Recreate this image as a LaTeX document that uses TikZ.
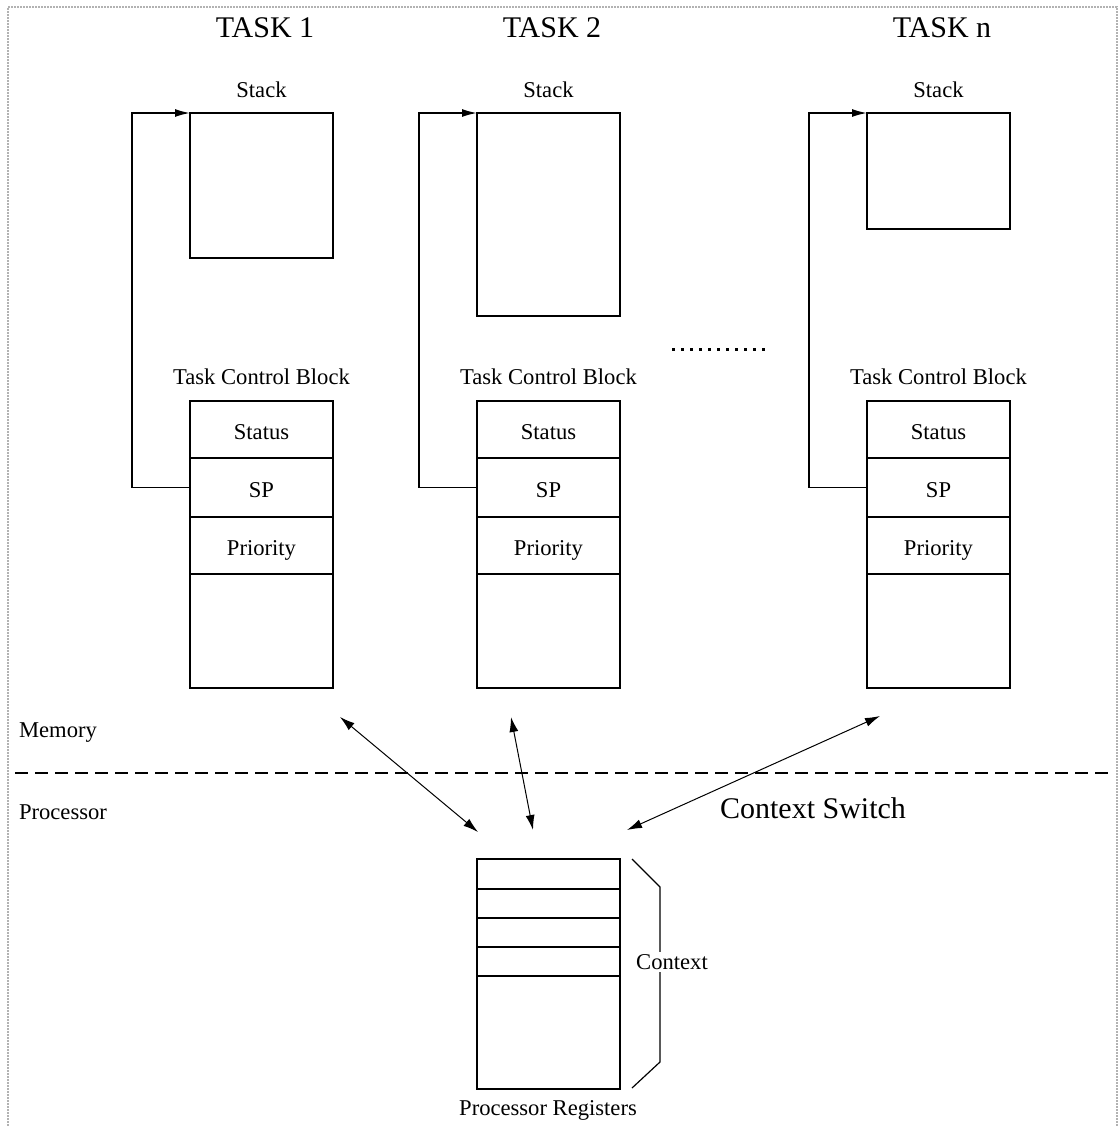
\documentclass[tikz,border=0pt]{standalone}
\usepackage{fontspec}
\setmainfont{Liberation Serif}
\usetikzlibrary{arrows.meta,positioning}

\begin{document}
\begin{tikzpicture}[
  x=0.5pt, y=-0.5pt,
  font=\fontsize{11.3}{13}\selectfont,
  cell/.style={draw, line width=0.8pt, minimum width=71.5pt, inner sep=0pt,
               outer sep=0pt, anchor=north west},
  field/.style={cell, text height=10pt, text depth=0pt},
  title/.style={font=\fontsize{15}{18}\selectfont},
  ptr/.style={-{Latex[length=7.5pt,width=4pt]}, line width=0.8pt},
  xchg/.style={{Latex[length=7.5pt,width=4.5pt]}-{Latex[length=7.5pt,width=4.5pt]},
               line width=0.5pt},
  pageframe/.style={draw=gray!60, line width=1.2pt, dash pattern=on 1pt off 0.5pt},
]
  \useasboundingbox (0,0) rectangle (1119,1126);
  \draw[pageframe] (8,1126) -- (8,7) -- (1117,7) -- (1117,1126);

  % task columns: stack + task control block
  \foreach \k/\xl/\sh in {1/190/72.5pt, 2/477/101.5pt, n/867/58pt}{
    \node[title] (task\k) at (\xl+75,28) {TASK \k};
    \node (stacklbl\k) at (\xl+71.5,90) {Stack};
    \node[cell, minimum height=\sh] (stack\k) at (\xl,113) {};
    \node (tcblbl\k) at (\xl+71.5,377) {Task Control Block};
    \node[field, minimum height=28.5pt] (status\k) at (\xl,401) {Status};
    \node[field, minimum height=29.5pt] (sp\k) at (status\k.south west) {SP};
    \node[field, minimum height=28.5pt] (prio\k) at (sp\k.south west) {Priority};
    \node[cell, minimum height=57pt] (free\k) at (prio\k.south west) {};
    \draw[ptr] (sp\k.west) -- ++(-58,0) |- (stack\k.north west);
  }

  % more tasks
  \draw[line width=1.5pt, dash pattern=on 1.5pt off 3pt] (672,349) -- (770,349);

  % memory / processor split
  \node[anchor=west] (mem) at (12,733) {Memory};
  \node[anchor=west] (proc) at (12,812) {Processor};
  \draw[line width=0.8pt, dash pattern=on 6.5pt off 3.5pt] (15,773) -- (1112,773);

  % processor registers
  \node[cell, minimum height=15pt] (reg1) at (477,859) {};
  \foreach \i/\j in {2/1, 3/2, 4/3}
    \node[cell, minimum height=14.5pt] (reg\i) at (reg\j.south west) {};
  \node[cell, minimum height=56.5pt] (reg5) at (reg4.south west) {};
  \node (reglbl) at (548,1110) {Processor Registers};

  % context bracket
  \coordinate (br1) at (632,859);
  \coordinate (br2) at (660,887);
  \coordinate (br3) at (660,1062);
  \coordinate (br4) at (632,1088);
  \draw[line width=0.6pt] (br1) -- (br2) -- (br3) -- (br4);
  \node[fill=white, inner sep=1pt] (ctx) at (672,962) {Context};

  % context switch
  \coordinate (m1) at (340,717);
  \coordinate (p1) at (478,832);
  \coordinate (m2) at (511,717);
  \coordinate (p2) at (533,830);
  \coordinate (mn) at (880,716);
  \coordinate (pn) at (627,830);
  \draw[xchg] (m1) -- (p1);
  \draw[xchg] (m2) -- (p2);
  \draw[xchg] (mn) -- (pn);
  \node[title] (cswitch) at (813,808) {Context Switch};
\end{tikzpicture}
\end{document}
